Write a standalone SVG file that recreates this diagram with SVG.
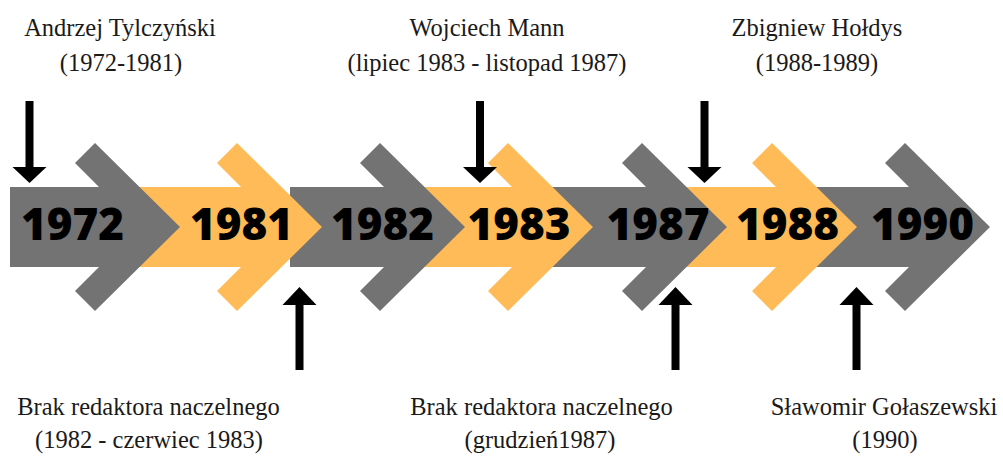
<svg xmlns="http://www.w3.org/2000/svg" width="1003" height="456" viewBox="0 0 1003 456">
  <style>
    .gray { fill: #737373; }
    .orange { fill: #FEBB57; }
    .year { font-family: "Open Sans", "DejaVu Sans", sans-serif; font-weight: 800; font-size: 44px; fill: #000; text-anchor: middle; }
    .label { font-family: "Liberation Serif", "Times New Roman", serif; font-size: 24.5px; fill: #1a1a1a; text-anchor: middle; }
    .pointer { fill: #000; }
  </style>
  <rect width="1003" height="456" fill="#fff"/>
  <g id="timeline">
    <g id="node-1990"><polygon class="gray" points="814,187 909,187 885,163 905,143 990,227 905,311 885,291 909,267 814,267"/></g>
    <g id="node-1988"><polygon class="orange" points="684,187 776,187 752,163 772,143 857,227 772,311 752,291 776,267 684,267"/></g>
    <g id="node-1987"><polygon class="gray" points="550,187 646,187 622,163 642,143 727,227 642,311 622,291 646,267 550,267"/></g>
    <g id="node-1983"><polygon class="orange" points="420,187 512,187 488,163 508,143 593,227 508,311 488,291 512,267 420,267"/></g>
    <g id="node-1982"><polygon class="gray" points="290,187 384,187 360,163 380,143 465,227 380,311 360,291 384,267 290,267"/></g>
    <g id="node-1981"><polygon class="orange" points="135,187 241,187 217,163 237,143 322,227 237,311 217,291 241,267 135,267"/></g>
    <g id="node-1972"><polygon class="gray" points="10,187 99,187 75,163 95,143 180,227 95,311 75,291 99,267 10,267"/></g>
    <text class="year" x="72.5" y="240">1972</text>
    <text class="year" x="241.5" y="240">1981</text>
    <text class="year" x="382.5" y="240">1982</text>
    <text class="year" x="519" y="240">1983</text>
    <text class="year" x="658" y="240">1987</text>
    <text class="year" x="787.5" y="240">1988</text>
    <text class="year" x="922.5" y="240">1990</text>
  </g>
  <g id="connectors">
    <g id="down-1972"><rect class="pointer" x="25.5" y="101" width="8" height="67"/><polygon class="pointer" points="12.5,167 46.5,167 29.5,183"/></g>
    <g id="down-1983"><rect class="pointer" x="476" y="101" width="8" height="67"/><polygon class="pointer" points="463,167 497,167 480,183"/></g>
    <g id="down-1988"><rect class="pointer" x="700.5" y="101" width="8" height="67"/><polygon class="pointer" points="687.5,167 721.5,167 704.5,183"/></g>
    <g id="up-1982"><rect class="pointer" x="295.5" y="304" width="8" height="66"/><polygon class="pointer" points="282.5,305 316.5,305 299.5,287"/></g>
    <g id="up-1987"><rect class="pointer" x="671.5" y="304" width="8" height="66"/><polygon class="pointer" points="658.5,305 692.5,305 675.5,287"/></g>
    <g id="up-1990"><rect class="pointer" x="852.5" y="304" width="8" height="66"/><polygon class="pointer" points="839.5,305 873.5,305 856.5,287"/></g>
  </g>
  <g id="label-tylczynski">
    <text class="label" x="120" y="36">Andrzej Tylczyński</text>
    <text class="label" x="121" y="71">(1972-1981)</text>
  </g>
  <g id="label-mann">
    <text class="label" x="487" y="36">Wojciech Mann</text>
    <text class="label" x="487" y="71">(lipiec 1983 - listopad 1987)</text>
  </g>
  <g id="label-holdys">
    <text class="label" x="817" y="36">Zbigniew Hołdys</text>
    <text class="label" x="817" y="71">(1988-1989)</text>
  </g>
  <g id="label-brak-1">
    <text class="label" x="148.5" y="415">Brak redaktora naczelnego</text>
    <text class="label" x="149" y="448">(1982 - czerwiec 1983)</text>
  </g>
  <g id="label-brak-2">
    <text class="label" x="541.5" y="415">Brak redaktora naczelnego</text>
    <text class="label" x="540" y="448">(grudzień1987)</text>
  </g>
  <g id="label-golaszewski">
    <text class="label" x="884" y="415">Sławomir Gołaszewski</text>
    <text class="label" x="885" y="448">(1990)</text>
  </g>
</svg>
